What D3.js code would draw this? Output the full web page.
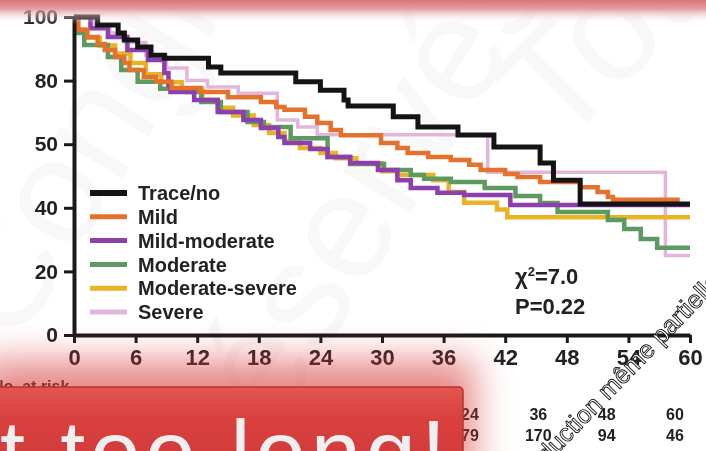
<!DOCTYPE html>
<html>
<head>
<meta charset="utf-8">
<script src="https://cdn.jsdelivr.net/npm/d3@7"></script>
<style>
  body { margin: 0; background: #fff; }
  svg { display: block; font-family: "Liberation Sans", Arial, sans-serif; }
  .tick text { font-weight: bold; fill: #222; }
</style>
</head>
<body>
<div id="chart"></div>
<script>
// survival curves, months vs percent surviving
const traceNo = [[0,100],[2.3,97.5],[4.3,95],[4.9,92.8],[6.2,90.6],[7.5,88],[8.8,87],[13.1,84.3],[14.3,82.4],[21.6,79.6],[24,77],[26.3,73.9],[26.7,72],[31.1,68.6],[33.5,65.4],[37.4,62.9],[40.9,59.1],[45.4,54.1],[46.7,48.7],[49.3,41.2],[60,41.2]];
const mild = [[0,100],[0.4,96],[1.3,93.7],[2.3,91.5],[3,89.6],[4,87.4],[4.9,85.5],[5.4,83.3],[6.8,81.1],[8,79.6],[9.5,77.7],[12.3,76.4],[15,74.8],[18.2,73.3],[19.7,71.7],[20.5,70.8],[22.5,68.6],[23.7,66.7],[25,64.5],[26,62.8],[29.9,60.4],[31.5,58.8],[32.5,57.2],[34.5,56],[36.7,55],[38.5,53.5],[39.6,51.9],[42,50.6],[43.2,49.7],[45.4,48.1],[49.3,46.5],[51,45],[52,43.4],[52.5,42.5],[59,42.5]];
const mildModerate = [[0,100],[1.6,96.5],[3.3,93.7],[5.2,89.6],[7.2,86.5],[8.8,82.4],[9.2,78.6],[9.4,76.4],[11.7,73.9],[14,70.1],[16.5,67.6],[18.2,65.1],[19.9,62.3],[20.5,60.4],[23,58.5],[24.7,56],[26.9,54.1],[29.6,51.9],[31.5,48.7],[32.8,46.2],[35.4,44.7],[38,44],[42.5,40.9],[60,40.9]];
const moderate = [[0,100],[0.4,95],[1,91.2],[3.3,87.4],[4.6,83.3],[6.2,79.6],[8.4,77.4],[11.1,76.4],[12.4,73.3],[14.3,70.1],[16.9,67],[18.5,65.4],[21.1,61.9],[24.7,56],[26.9,53.8],[30.2,51.9],[32.8,50.3],[34.1,49.1],[36.7,48.1],[40,46.2],[43,43.7],[45.4,41.5],[47.1,38.7],[52,36.2],[53.6,33.3],[55.2,30.2],[56.8,27.4],[60,27.4]];
const moderateSevere = [[0,100],[0.3,96],[1,93.5],[2.5,91],[4,88.5],[5.5,85.5],[7,82],[8.5,79.5],[10.5,77.5],[12.5,74],[14,71.5],[15.5,69],[17.5,66],[19,63.5],[20.5,61],[22,58.8],[24,57.2],[25.5,55.6],[27.5,54],[30,51.5],[31.5,50.3],[35,48.7],[36.5,45],[38,41.6],[41.2,39.5],[42.2,37],[60,37]];
const severe = [[0,100],[2,97.5],[3.5,95],[5,92],[7,88],[9,84],[11,80],[13,78],[16,76],[19.8,67.6],[21.8,65.4],[23.7,63],[40.3,51.2],[57.6,25],[60,25]];

const seriesNames = ["Trace/no", "Mild", "Mild-moderate", "Moderate", "Moderate-severe", "Severe"];
const seriesData = [traceNo, mild, mildModerate, moderate, moderateSevere, severe];
const seriesColors = ["#141414", "#e2722c", "#8e3fae", "#5c9a62", "#eab225", "#e3b5dc"];

const xTicks = [0, 6, 12, 18, 24, 30, 36, 42, 48, 54, 60];
const yTicks = [0, 20, 40, 60, 80, 100];
const yTickLabels = ["0", "20", "40", "50", "80", "100"];

const riskHeader = ["24", "36", "48", "60"];
const riskRow = ["79", "170", "94", "46"];

const width = 706;
const height = 451;

const svg = d3.select("#chart")
    .append("svg")
    .attr("width", width)
    .attr("height", height);

const defs = svg.append("defs");

const x = d3.scaleLinear().domain([0, 60]).range([74, 690]);
const y = d3.scaleLinear().domain([0, 100]).range([335, 17]);

// faint watermark letters behind everything
const wm = svg.append("g").attr("fill", "#000").attr("opacity", 0.03)
    .style("font-size", "150px").style("font-family", "Liberation Sans, Arial, sans-serif");
wm.append("text").attr("transform", "translate(15,350) rotate(-58)").text("Congrès");
wm.append("text").attr("transform", "translate(250,470) rotate(-58)").text("réservés");
wm.append("text").attr("transform", "translate(560,150) rotate(-45)").text("Tous");

// survival lines
const line = d3.line()
    .x(d => x(d[0]))
    .y(d => y(d[1]))
    .curve(d3.curveStepAfter);

const drawOrder = [5, 4, 3, 2, 1, 0];
svg.append("g")
    .selectAll("path")
    .data(drawOrder)
    .enter()
    .append("path")
    .attr("d", i => line(seriesData[i]))
    .attr("fill", "none")
    .attr("stroke", i => seriesColors[i])
    .attr("stroke-width", i => i === 0 ? 5 : (i === 5 ? 3.5 : 4.5));

// axes
const xAxis = svg.append("g")
    .attr("transform", `translate(0, ${y(0)})`)
    .call(d3.axisBottom(x).tickValues(xTicks).tickSize(8).tickSizeOuter(0).tickPadding(6));
xAxis.select(".domain").attr("stroke", "#1a1a1a").attr("stroke-width", 4);
xAxis.selectAll(".tick line").attr("stroke", "#1a1a1a").attr("stroke-width", 3);
xAxis.selectAll(".tick text").style("font-size", "22px");

const yAxis = svg.append("g")
    .attr("transform", `translate(${x(0)}, 0)`)
    .call(d3.axisLeft(y).tickValues(yTicks).tickFormat((d, i) => yTickLabels[i])
        .tickSize(10).tickSizeOuter(0).tickPadding(6));
yAxis.select(".domain").attr("stroke", "#1a1a1a").attr("stroke-width", 4);
yAxis.selectAll(".tick line").attr("stroke", "#1a1a1a").attr("stroke-width", 3);
yAxis.selectAll(".tick text").style("font-size", "21px");

// legend
const legend = svg.append("g").attr("transform", "translate(90, 193)");
const rows = legend.selectAll("g")
    .data(seriesNames)
    .enter()
    .append("g")
    .attr("transform", (d, i) => `translate(0, ${i * 23.8})`);
rows.append("line")
    .attr("x1", 0).attr("x2", 37)
    .attr("stroke", (d, i) => seriesColors[i])
    .attr("stroke-width", (d, i) => i === 0 ? 6 : 5);
rows.append("text")
    .attr("x", 48)
    .attr("dy", "0.36em")
    .style("font-size", "20px")
    .style("font-weight", "bold")
    .attr("fill", "#222")
    .text(d => d);

// test statistic
const stat = svg.append("g").style("font-size", "22px").style("font-weight", "bold").attr("fill", "#222");
stat.append("text").attr("x", 515).attr("y", 284).html("χ<tspan dy='-8' style='font-size:13px'>2</tspan><tspan dy='8'>=7.0</tspan>");
stat.append("text").attr("x", 515).attr("y", 314).text("P=0.22");

// number at risk table (partly hidden)
svg.append("text").attr("x", -8).attr("y", 392)
    .style("font-size", "16px").style("font-weight", "bold").attr("fill", "#222")
    .text("No. at risk");
const riskX = d3.scalePoint().domain(riskHeader).range([470, 675]);
svg.append("g").selectAll("text").data(riskHeader).enter().append("text")
    .attr("x", d => riskX(d)).attr("y", 420).attr("text-anchor", "middle")
    .style("font-size", "16px").style("font-weight", "bold").attr("fill", "#222")
    .text(d => d);
svg.append("g").selectAll("text").data(riskRow).enter().append("text")
    .attr("x", (d, i) => riskX(riskHeader[i])).attr("y", 441).attr("text-anchor", "middle")
    .style("font-size", "16px").style("font-weight", "bold").attr("fill", "#222")
    .text(d => d);

// top red fade band
const topGrad = defs.append("linearGradient").attr("id", "topGrad")
    .attr("x1", 0).attr("y1", 0).attr("x2", 0).attr("y2", 1);
topGrad.append("stop").attr("offset", "0%").attr("stop-color", "#d7747b").attr("stop-opacity", 1);
topGrad.append("stop").attr("offset", "35%").attr("stop-color", "#dd888e").attr("stop-opacity", 0.85);
topGrad.append("stop").attr("offset", "100%").attr("stop-color", "#ffffff").attr("stop-opacity", 0);
svg.append("rect").attr("x", 0).attr("y", 0).attr("width", width).attr("height", 24).attr("fill", "url(#topGrad)");

// bottom red box with glow
const blur = defs.append("filter").attr("id", "glow").attr("x", "-30%").attr("y", "-60%").attr("width", "160%").attr("height", "220%");
blur.append("feGaussianBlur").attr("stdDeviation", 18);
svg.append("rect").attr("x", -20).attr("y", 360).attr("width", 495).attr("height", 120)
    .attr("fill", "#d83a3a").attr("opacity", 0.6).attr("filter", "url(#glow)");

const boxGrad = defs.append("linearGradient").attr("id", "boxGrad")
    .attr("x1", 0).attr("y1", 0).attr("x2", 0).attr("y2", 1);
boxGrad.append("stop").attr("offset", "0%").attr("stop-color", "#e3564f");
boxGrad.append("stop").attr("offset", "40%").attr("stop-color", "#d9403d");
boxGrad.append("stop").attr("offset", "100%").attr("stop-color", "#cf3b3b");
svg.append("rect").attr("x", -10).attr("y", 387).attr("width", 473).attr("height", 80).attr("rx", 4)
    .attr("fill", "url(#boxGrad)").attr("stroke", "#b93232").attr("stroke-width", 1.5);

svg.append("text").attr("x", 0).attr("y", 484)
    .attr("textLength", 446).attr("lengthAdjust", "spacing")
    .style("font-size", "90px").attr("fill", "#efefef")
    .text("t too long!");

// diagonal copyright text
svg.append("text").attr("transform", "translate(507,506) rotate(-46)")
    .style("font-size", "25px").attr("fill", "#fff").attr("stroke", "#111").attr("stroke-width", 0.9)
    .text("reproduction même partielle");
</script>
</body>
</html>
